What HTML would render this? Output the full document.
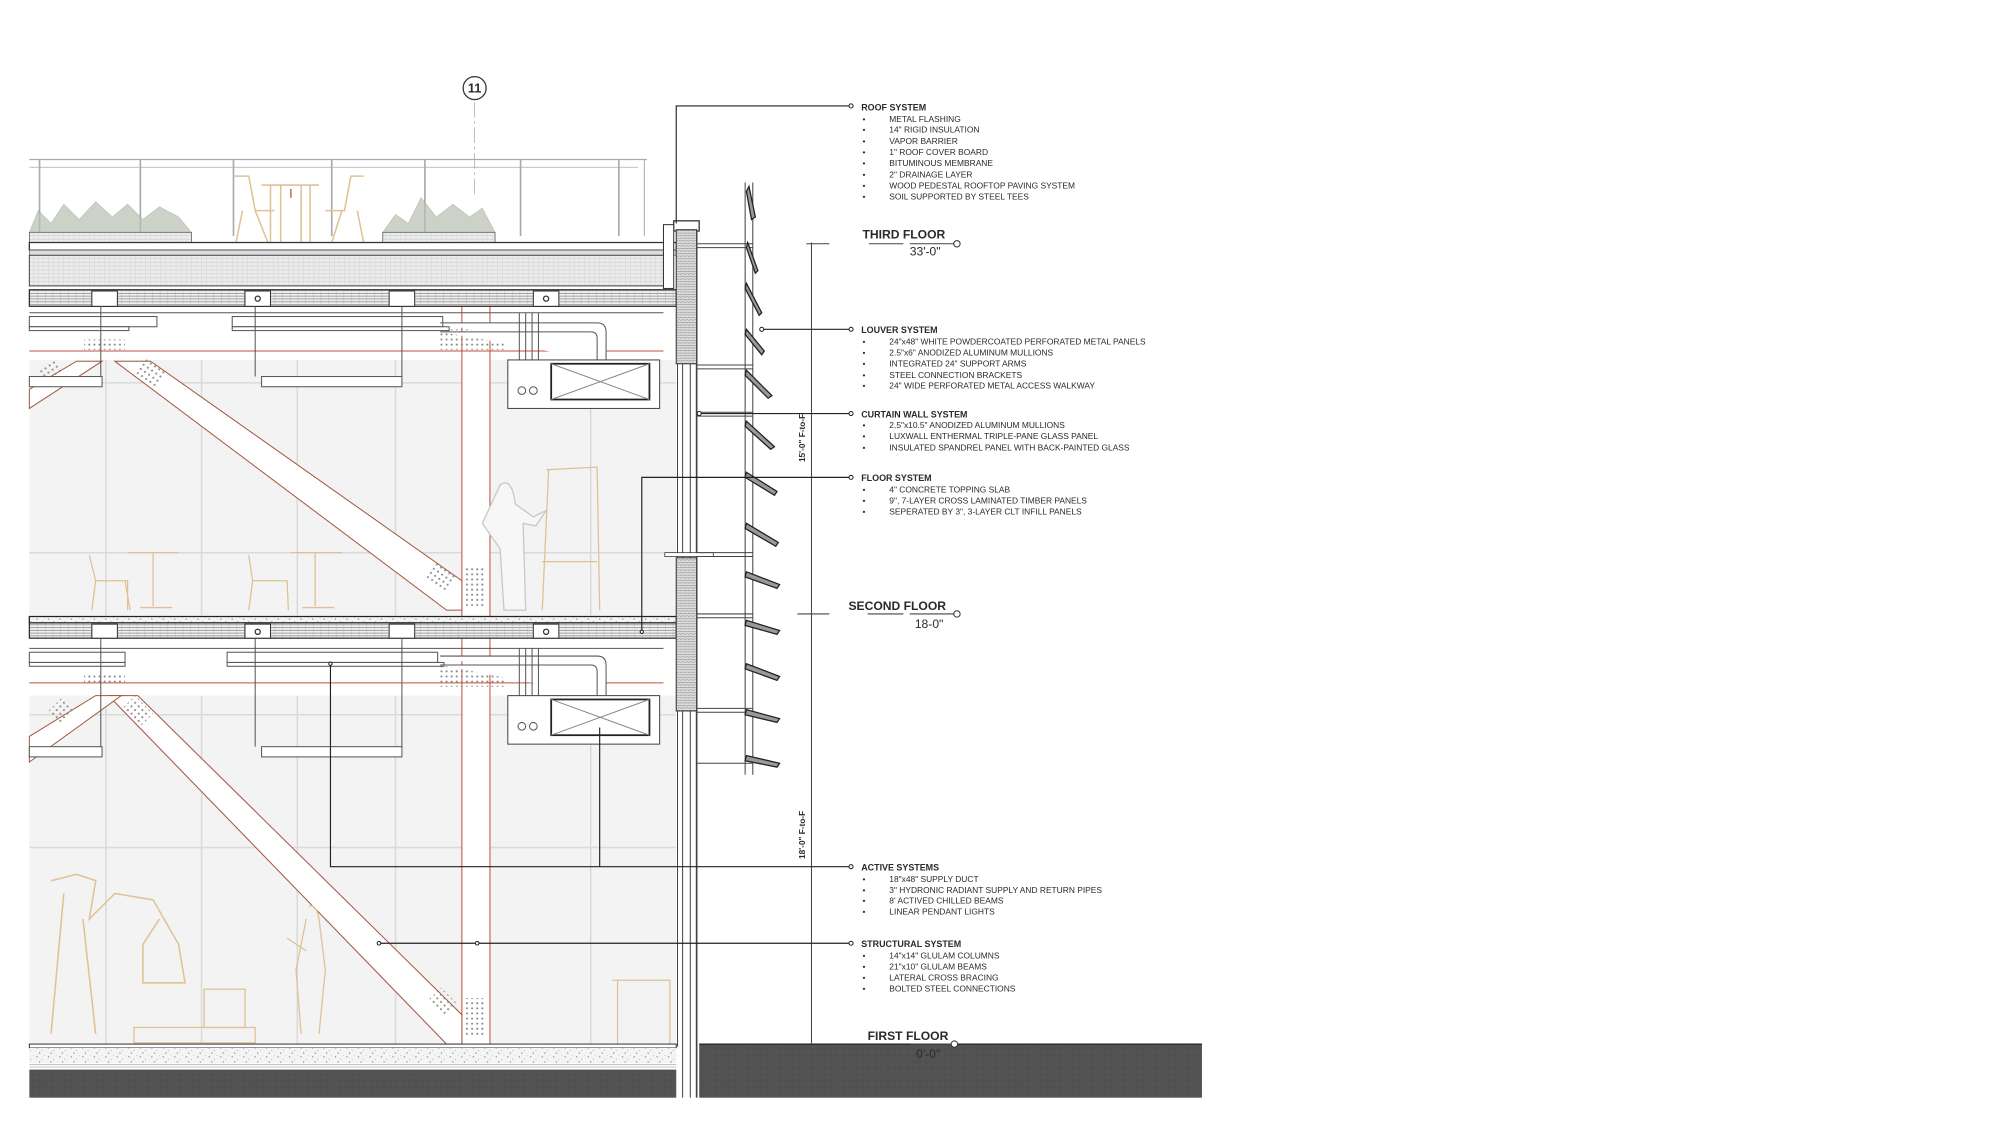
<!DOCTYPE html>
<html><head><meta charset="utf-8"><style>
html,body{margin:0;padding:0;background:#fff;}
svg{display:block;}
text{font-family:"Liberation Sans",sans-serif;fill:#2a2a2a;}
.t{font-size:7px;font-weight:bold;}
.i{font-size:6.6px;}
.b{font-size:6.6px;}
.fl{font-size:9.5px;font-weight:bold;}
.el{font-size:9.5px;}
</style></head><body>
<svg width="2000" height="1125" viewBox="0 0 1567.5 881.4" preserveAspectRatio="none" xmlns="http://www.w3.org/2000/svg">
<defs>
<pattern id="clt" width="6" height="2.2" patternUnits="userSpaceOnUse"><rect width="6" height="2.2" fill="#f0f0f0"/><line x1="0" y1="1" x2="6" y2="1" stroke="#777" stroke-width="0.5"/><line x1="5.5" y1="0" x2="5.5" y2="2.2" stroke="#aaa" stroke-width="0.3"/></pattern>
<pattern id="ins" width="4" height="3" patternUnits="userSpaceOnUse"><rect width="4" height="3" fill="#ececec"/><line x1="0" y1="1.5" x2="4" y2="1.5" stroke="#c8c8c8" stroke-width="0.4"/><line x1="2" y1="0" x2="2" y2="3" stroke="#d2d2d2" stroke-width="0.3"/></pattern>
<pattern id="spk" width="9" height="7" patternUnits="userSpaceOnUse"><rect width="9" height="7" fill="#f4f4f4"/><circle cx="2" cy="2" r="0.5" fill="#888"/><circle cx="6" cy="4" r="0.4" fill="#999"/><circle cx="4" cy="6" r="0.5" fill="#777"/><circle cx="8" cy="1" r="0.3" fill="#999"/></pattern>
<pattern id="dk" width="5" height="5" patternUnits="userSpaceOnUse"><rect width="5" height="5" fill="#525252"/><circle cx="1" cy="2" r="0.4" fill="#3f3f3f"/><circle cx="3.5" cy="4" r="0.4" fill="#5e5e5e"/></pattern>
<pattern id="sp" width="3" height="2" patternUnits="userSpaceOnUse"><rect width="3" height="2" fill="#ddd"/><path d="M0 1 Q1.5 0 3 1" stroke="#777" stroke-width="0.4" fill="none"/></pattern>
<pattern id="dots" width="4" height="4" patternUnits="userSpaceOnUse"><circle cx="2" cy="2" r="0.8" fill="#888"/></pattern>
</defs>

<rect x="23" y="282" width="507" height="200" fill="#f3f3f3"/>
<rect x="23" y="545" width="507" height="273" fill="#f3f3f3"/>
<g stroke="#dadada" stroke-width="1.2">
<line x1="83" y1="282" x2="83" y2="482"/><line x1="158" y1="282" x2="158" y2="482"/><line x1="233" y1="282" x2="233" y2="482"/><line x1="310" y1="282" x2="310" y2="482"/><line x1="463" y1="282" x2="463" y2="482"/>
<line x1="83" y1="545" x2="83" y2="818"/><line x1="158" y1="545" x2="158" y2="818"/><line x1="233" y1="545" x2="233" y2="818"/><line x1="310" y1="545" x2="310" y2="818"/><line x1="463" y1="545" x2="463" y2="818"/>
<line x1="23" y1="300" x2="530" y2="300"/><line x1="23" y1="433" x2="530" y2="433"/><line x1="23" y1="560" x2="530" y2="560"/><line x1="23" y1="664" x2="530" y2="664"/>
</g>
<rect x="362" y="240" width="22" height="578" fill="#fff"/>
<g stroke="#c0503a" stroke-width="0.8" fill="none">
<line x1="23" y1="275" x2="520" y2="275"/><line x1="23" y1="535" x2="520" y2="535"/>
<line x1="362" y1="240" x2="362" y2="818"/><line x1="384" y1="240" x2="384" y2="818"/>
</g>
<g stroke="#a0583f" stroke-width="0.8" fill="#fff">
<polygon points="90,283 118,283 362,455 362,478 350,478"/>
<polygon points="23,305 60,283 80,283 23,320"/>
<polygon points="85,545 108,545 362,795 362,818 350,818"/>
<polygon points="23,577 75,545 95,545 23,597"/>
</g>
<g fill="url(#dots)"><rect x="108" y="285" width="20" height="15" transform="rotate(35 118 292)"/><rect x="336" y="444" width="20" height="15" transform="rotate(35 346 451)"/><rect x="33" y="285" width="16" height="12" transform="rotate(-35 41 291)"/>
<rect x="98" y="550" width="20" height="15" transform="rotate(45 108 557)"/><rect x="338" y="778" width="18" height="15" transform="rotate(45 347 785)"/><rect x="40" y="550" width="16" height="14" transform="rotate(-45 48 557)"/>
<rect x="365" y="445" width="14" height="30"/><rect x="365" y="782" width="14" height="30"/><rect x="66" y="266" width="32" height="8"/><rect x="345" y="258" width="50" height="16"/><rect x="66" y="528" width="32" height="8"/><rect x="345" y="520" width="50" height="18"/></g>

<g stroke="#aaa" stroke-width="1.3">
<line x1="23" y1="125" x2="507" y2="125" stroke-width="1"/><line x1="23" y1="131" x2="500" y2="131" stroke-width="0.6"/>
<line x1="31" y1="125" x2="31" y2="185"/><line x1="110" y1="125" x2="110" y2="185"/><line x1="183" y1="125" x2="183" y2="185"/><line x1="260" y1="125" x2="260" y2="185"/><line x1="333" y1="125" x2="333" y2="185"/><line x1="408" y1="125" x2="408" y2="185"/><line x1="485" y1="125" x2="485" y2="185"/><line x1="505" y1="125" x2="505" y2="185" stroke-width="0.8"/>
</g>
<line x1="372" y1="80" x2="372" y2="155" stroke="#999" stroke-width="0.5" stroke-dasharray="12,3,2,3"/>
<circle cx="372" cy="69" r="9" fill="#fff" stroke="#333" stroke-width="1"/>
<text x="372" y="72.5" text-anchor="middle" style="font-size:10px;font-weight:bold">11</text>
<g fill="#b9c0b2" stroke="#9aa392" stroke-width="0.5">
<path d="M23 182 L30 165 L40 175 L50 160 L62 172 L75 158 L88 170 L100 160 L112 172 L125 162 L140 170 L150 182 Z" opacity="0.7"/>
<path d="M300 182 L310 168 L320 175 L330 155 L342 170 L355 160 L368 170 L378 163 L388 182 Z" opacity="0.7"/>
</g>
<rect x="23" y="182" width="127" height="10" fill="url(#ins)" stroke="#555" stroke-width="0.6"/>
<rect x="300" y="182" width="88" height="10" fill="url(#ins)" stroke="#555" stroke-width="0.6"/>
<g stroke="#e0c194" stroke-width="1.2" fill="none">
<path d="M183 138 L195 138 L200 165 L215 165 M190 165 L185 190 M200 165 L210 190"/>
<path d="M205 145 L250 145 M212 145 L212 190 M243 145 L243 190 M220 145 L220 190 M236 145 L236 190"/>
<path d="M285 138 L275 138 L270 165 L255 165 M280 165 L285 190 M268 165 L260 190"/>
</g>
<line x1="228" y1="148" x2="228" y2="155" stroke="#c0503a"/>
<rect x="23" y="190" width="507" height="6" fill="#fff" stroke="#333" stroke-width="1"/>
<rect x="23" y="196" width="507" height="4" fill="#ddd" stroke="#555" stroke-width="0.5"/>
<rect x="23" y="200" width="500" height="24" fill="url(#ins)" stroke="#444" stroke-width="0.8"/>
<rect x="23" y="227" width="507" height="13" fill="url(#clt)" stroke="#333" stroke-width="1"/>
<g fill="#fff" stroke="#333" stroke-width="0.8"><rect x="72" y="228" width="20" height="12"/><rect x="192" y="228" width="20" height="12"/><rect x="305" y="228" width="20" height="12"/><rect x="418" y="228" width="20" height="12"/></g>
<circle cx="202" cy="234" r="2" fill="none" stroke="#333"/><circle cx="428" cy="234" r="2" fill="none" stroke="#333"/>
<g stroke="#555" stroke-width="0.8" fill="#fff">
<line x1="23" y1="245" x2="520" y2="245"/>
<rect x="23" y="248" width="100" height="8"/><rect x="182" y="248" width="165" height="8"/><rect x="23" y="256" width="78" height="3"/><rect x="182" y="256" width="170" height="3"/>
<path d="M345 253 L468 253 Q475 253 475 260 L475 282 M345 260 L463 260 Q468 260 468 265 L468 282"/>
<line x1="79" y1="240" x2="79" y2="295"/><line x1="200" y1="240" x2="200" y2="295"/><line x1="315" y1="240" x2="315" y2="295"/>
<line x1="407" y1="245" x2="407" y2="285"/><line x1="412" y1="245" x2="412" y2="285"/><line x1="417" y1="245" x2="417" y2="285"/><line x1="422" y1="245" x2="422" y2="285"/>
<rect x="23" y="295" width="57" height="8"/><rect x="205" y="295" width="110" height="8"/>
<rect x="398" y="282" width="119" height="38" stroke="#444"/>
<rect x="432" y="285" width="77" height="28" stroke="#222" stroke-width="1.4"/>
<path d="M432 285 L509 313 M509 285 L432 313" stroke="#888"/>
<circle cx="409" cy="306" r="3"/><circle cx="418" cy="306" r="3"/>
</g>
<rect x="23" y="483" width="507" height="5" fill="url(#spk)" stroke="#222" stroke-width="1"/>
<rect x="23" y="488" width="507" height="12" fill="url(#clt)" stroke="#333" stroke-width="1"/>
<g fill="#fff" stroke="#333" stroke-width="0.8"><rect x="72" y="489" width="20" height="11"/><rect x="192" y="489" width="20" height="11"/><rect x="305" y="489" width="20" height="11"/><rect x="418" y="489" width="20" height="11"/></g>
<circle cx="202" cy="495" r="2" fill="none" stroke="#333"/><circle cx="428" cy="495" r="2" fill="none" stroke="#333"/>
<g stroke="#555" stroke-width="0.8" fill="#fff">
<line x1="23" y1="508" x2="520" y2="508"/>
<rect x="23" y="511" width="75" height="8"/><rect x="178" y="511" width="165" height="8"/><rect x="23" y="519" width="75" height="3"/><rect x="178" y="519" width="170" height="3"/>
<path d="M345 514 L468 514 Q475 514 475 521 L475 545 M345 521 L463 521 Q468 521 468 526 L468 545"/>
<line x1="79" y1="500" x2="79" y2="585"/><line x1="200" y1="500" x2="200" y2="585"/><line x1="315" y1="500" x2="315" y2="585"/>
<line x1="407" y1="508" x2="407" y2="548"/><line x1="412" y1="508" x2="412" y2="548"/><line x1="417" y1="508" x2="417" y2="548"/><line x1="422" y1="508" x2="422" y2="548"/>
<rect x="23" y="585" width="57" height="8"/><rect x="205" y="585" width="110" height="8"/>
<rect x="398" y="545" width="119" height="38" stroke="#444"/>
<rect x="432" y="548" width="77" height="28" stroke="#222" stroke-width="1.4"/>
<path d="M432 548 L509 576 M509 548 L432 576" stroke="#888"/>
<circle cx="409" cy="569" r="3"/><circle cx="418" cy="569" r="3"/>
</g>
<g stroke="#e0c194" stroke-width="1" fill="none">
<path d="M70 435 L75 455 L100 455 L100 478 M75 455 L72 478 M98 455 L102 478"/><path d="M100 433 L140 433 M120 433 L120 475 M110 476 L135 476"/>
<path d="M195 435 L198 455 L225 455 L226 478 M198 455 L195 478"/><path d="M228 433 L268 433 M247 433 L247 475 M237 476 L262 476"/>
<path d="M428 368 L468 366 L470 478 M430 368 L425 478 M425 440 L468 440"/>
<path d="M40 690 L60 685 L75 690 L70 720 L90 700 L120 705 L140 740 L145 770 L112 770 L112 740 L125 720 M50 700 L40 810 M65 720 L75 810" stroke-width="1.2"/>
<rect x="160" y="775" width="32" height="30"/><rect x="105" y="805" width="95" height="12"/>
<path d="M480 768 L525 768 L525 818 M484 768 L484 818"/>
</g>
<g stroke="#c7c7c7" stroke-width="1" fill="#f7f7f7">
<path d="M392 380 Q398 375 402 385 L404 395 L418 405 L428 400 L420 412 L410 410 L412 478 L395 478 L392 430 L385 420 L378 410 Z"/>
</g>
<g stroke="#e0c194" stroke-width="1" fill="none"><path d="M242 710 Q248 708 250 720 L255 760 L250 810 M240 720 L232 760 L236 810 M225 735 L240 745"/></g>

<rect x="23" y="818" width="507" height="3" fill="#fff" stroke="#333" stroke-width="0.8"/>
<rect x="23" y="821" width="507" height="12" fill="url(#spk)"/>
<g stroke="#888" stroke-width="0.4"><line x1="23" y1="834" x2="530" y2="834"/><line x1="23" y1="836" x2="530" y2="836"/></g>
<rect x="23" y="838" width="507" height="22" fill="url(#dk)"/>
<rect x="548" y="818" width="394" height="42" fill="url(#dk)"/>
<line x1="548" y1="818" x2="942" y2="818" stroke="#222" stroke-width="1"/>

<g stroke="#444" stroke-width="0.8" fill="none">
<line x1="531" y1="173" x2="531" y2="820"/><line x1="535" y1="180" x2="535" y2="860"/><line x1="541" y1="180" x2="541" y2="860"/><line x1="546" y1="173" x2="546" y2="860" stroke-width="1.3"/>
</g>
<rect x="528" y="173" width="20" height="8" fill="#fff" stroke="#333" stroke-width="1"/>
<rect x="530" y="180" width="16" height="105" fill="url(#sp)" stroke="#333" stroke-width="0.8"/>
<rect x="530" y="437" width="16" height="120" fill="url(#sp)" stroke="#333" stroke-width="0.8"/>
<rect x="520" y="176" width="8" height="50" fill="#fff" stroke="#333" stroke-width="0.8"/>
<rect x="521" y="433" width="38" height="3" fill="#fff" stroke="#333" stroke-width="0.6"/>
<g stroke="#444" stroke-width="0.8" fill="none">
<line x1="584" y1="143" x2="584" y2="607"/><line x1="590" y1="143" x2="590" y2="607"/>
<line x1="546" y1="191" x2="590" y2="191"/><line x1="546" y1="194" x2="590" y2="194"/>
<line x1="546" y1="286" x2="590" y2="286"/><line x1="546" y1="289" x2="590" y2="289"/>
<line x1="546" y1="323" x2="590" y2="323"/><line x1="546" y1="326" x2="590" y2="326"/>
<line x1="546" y1="433" x2="590" y2="433"/><line x1="546" y1="436" x2="590" y2="436"/>
<line x1="546" y1="481" x2="590" y2="481"/><line x1="546" y1="484" x2="590" y2="484"/>
<line x1="546" y1="555" x2="590" y2="555"/><line x1="546" y1="558" x2="590" y2="558"/>
<line x1="546" y1="598" x2="590" y2="598"/>
</g>
<g fill="#999" stroke="#222" stroke-width="1">
<path d="M587 146 L592 170 L589 172 L585 150 Z"/><path d="M586 190 L594 212 L592 214 L585 194 Z"/>
<path d="M585 222 L597 245 L595 247 L584 226 Z"/><path d="M585 258 L599 275 L597 278 L584 262 Z"/>
<path d="M585 290 L605 310 L602 312 L584 294 Z"/><path d="M585 330 L607 350 L604 352 L584 334 Z"/>
<path d="M585 370 L609 385 L607 388 L584 374 Z"/><path d="M585 410 L610 425 L608 428 L584 414 Z"/>
<path d="M585 448 L611 458 L609 461 L584 452 Z"/><path d="M585 486 L611 494 L609 497 L584 490 Z"/>
<path d="M585 520 L611 530 L609 533 L584 524 Z"/><path d="M585 556 L611 563 L609 566 L584 560 Z"/>
<path d="M585 592 L611 598 L609 601 L584 596 Z"/>
</g>

<g stroke="#444" stroke-width="0.8" fill="none">
<line x1="636" y1="190" x2="636" y2="818"/><line x1="632" y1="191" x2="650" y2="191"/>
<line x1="681" y1="191" x2="708" y2="191"/><line x1="713" y1="191" x2="750" y2="191"/>
<line x1="625" y1="481" x2="650" y2="481"/><line x1="680" y1="481" x2="708" y2="481"/><line x1="713" y1="481" x2="750" y2="481"/>
<line x1="714" y1="818" x2="750" y2="818"/>
</g>
<g fill="#fff" stroke="#333" stroke-width="0.8"><circle cx="750" cy="191" r="2.5"/><circle cx="750" cy="481" r="2.5"/><circle cx="748" cy="818" r="2.5"/></g>
<text class="b" transform="translate(631,362) rotate(-90)" style="font-weight:bold;font-size:6.5px">15'-0" F-to-F</text>
<text class="b" transform="translate(631,673) rotate(-90)" style="font-weight:bold;font-size:6.5px">18'-0" F-to-F</text>
<text class="fl" x="676" y="187">THIRD FLOOR</text><text class="el" x="713" y="200">33'-0"</text>
<text class="fl" x="665" y="478">SECOND FLOOR</text><text class="el" x="717" y="492">18-0"</text>
<text class="fl" x="680" y="815">FIRST FLOOR</text><text class="el" x="718" y="829">0'-0"</text>

<g stroke="#222" stroke-width="0.9" fill="none">
<polyline points="530,175 530,83 667,83"/>
<line x1="597" y1="258" x2="667" y2="258"/>
<line x1="548" y1="324" x2="667" y2="324"/>
<polyline points="503,495 503,374 667,374"/>
<polyline points="259,520 259,679 667,679"/><line x1="470" y1="570" x2="470" y2="679"/>
<line x1="297" y1="739" x2="667" y2="739"/>
</g>
<g fill="#fff" stroke="#222" stroke-width="0.8">
<circle cx="667" cy="83" r="1.6"/><circle cx="667" cy="258" r="1.6"/><circle cx="597" cy="258" r="1.6"/><circle cx="667" cy="324" r="1.6"/><circle cx="548" cy="324" r="1.6"/><circle cx="667" cy="374" r="1.6"/><circle cx="667" cy="679" r="1.6"/><circle cx="667" cy="739" r="1.6"/><circle cx="297" cy="739" r="1.4"/><circle cx="374" cy="739" r="1.4"/><circle cx="259" cy="520" r="1.3"/><circle cx="503" cy="495" r="1.3"/>
</g>

<g>
<text class="t" x="675" y="86.5">ROOF SYSTEM</text>
<text class="b" x="676" y="95.5">•</text><text class="i" x="697" y="95.5">METAL FLASHING</text>
<text class="b" x="676" y="104">•</text><text class="i" x="697" y="104">14" RIGID INSULATION</text>
<text class="b" x="676" y="113">•</text><text class="i" x="697" y="113">VAPOR BARRIER</text>
<text class="b" x="676" y="121.5">•</text><text class="i" x="697" y="121.5">1" ROOF COVER BOARD</text>
<text class="b" x="676" y="130">•</text><text class="i" x="697" y="130">BITUMINOUS MEMBRANE</text>
<text class="b" x="676" y="139">•</text><text class="i" x="697" y="139">2" DRAINAGE LAYER</text>
<text class="b" x="676" y="147.5">•</text><text class="i" x="697" y="147.5">WOOD PEDESTAL ROOFTOP PAVING SYSTEM</text>
<text class="b" x="676" y="156.5">•</text><text class="i" x="697" y="156.5">SOIL SUPPORTED BY STEEL TEES</text>

<text class="t" x="675" y="261">LOUVER SYSTEM</text>
<text class="b" x="676" y="270">•</text><text class="i" x="697" y="270">24"x48" WHITE POWDERCOATED PERFORATED METAL PANELS</text>
<text class="b" x="676" y="278.5">•</text><text class="i" x="697" y="278.5">2.5"x6" ANODIZED ALUMINUM MULLIONS</text>
<text class="b" x="676" y="287">•</text><text class="i" x="697" y="287">INTEGRATED 24" SUPPORT ARMS</text>
<text class="b" x="676" y="296">•</text><text class="i" x="697" y="296">STEEL CONNECTION BRACKETS</text>
<text class="b" x="676" y="304.5">•</text><text class="i" x="697" y="304.5">24" WIDE PERFORATED METAL ACCESS WALKWAY</text>

<text class="t" x="675" y="327">CURTAIN WALL SYSTEM</text>
<text class="b" x="676" y="335.5">•</text><text class="i" x="697" y="335.5">2.5"x10.5" ANODIZED ALUMINUM MULLIONS</text>
<text class="b" x="676" y="344">•</text><text class="i" x="697" y="344">LUXWALL ENTHERMAL TRIPLE-PANE GLASS PANEL</text>
<text class="b" x="676" y="353">•</text><text class="i" x="697" y="353">INSULATED SPANDREL PANEL WITH BACK-PAINTED GLASS</text>

<text class="t" x="675" y="377">FLOOR SYSTEM</text>
<text class="b" x="676" y="386">•</text><text class="i" x="697" y="386">4" CONCRETE TOPPING SLAB</text>
<text class="b" x="676" y="394.5">•</text><text class="i" x="697" y="394.5">9", 7-LAYER CROSS LAMINATED TIMBER PANELS</text>
<text class="b" x="676" y="403">•</text><text class="i" x="697" y="403">SEPERATED BY 3", 3-LAYER CLT INFILL PANELS</text>

<text class="t" x="675" y="682">ACTIVE SYSTEMS</text>
<text class="b" x="676" y="691">•</text><text class="i" x="697" y="691">18"x48" SUPPLY DUCT</text>
<text class="b" x="676" y="699.5">•</text><text class="i" x="697" y="699.5">3" HYDRONIC RADIANT SUPPLY AND RETURN PIPES</text>
<text class="b" x="676" y="708">•</text><text class="i" x="697" y="708">8' ACTIVED CHILLED BEAMS</text>
<text class="b" x="676" y="716.5">•</text><text class="i" x="697" y="716.5">LINEAR PENDANT LIGHTS</text>

<text class="t" x="675" y="742">STRUCTURAL SYSTEM</text>
<text class="b" x="676" y="751">•</text><text class="i" x="697" y="751">14"x14" GLULAM COLUMNS</text>
<text class="b" x="676" y="759.5">•</text><text class="i" x="697" y="759.5">21"x10" GLULAM BEAMS</text>
<text class="b" x="676" y="768">•</text><text class="i" x="697" y="768">LATERAL CROSS BRACING</text>
<text class="b" x="676" y="777">•</text><text class="i" x="697" y="777">BOLTED STEEL CONNECTIONS</text>
</g>
</svg>
</body></html>
